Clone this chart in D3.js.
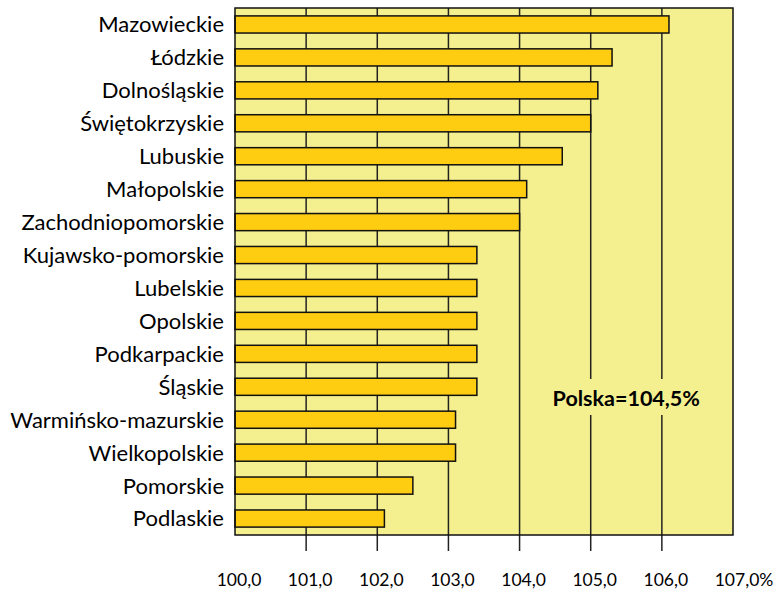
<!DOCTYPE html>
<html>
<head>
<meta charset="utf-8">
<script src="https://cdn.jsdelivr.net/npm/d3@7"></script>
<style>
  body { margin: 0; background: #fff; }
  svg text { font-family: Lato, "Open Sans", sans-serif; fill: #000; }
</style>
</head>
<body>
<div id="chart"></div>
<script>
const regions = ["Mazowieckie", "Łódzkie", "Dolnośląskie", "Świętokrzyskie", "Lubuskie",
                 "Małopolskie", "Zachodniopomorskie", "Kujawsko-pomorskie", "Lubelskie",
                 "Opolskie", "Podkarpackie", "Śląskie", "Warmińsko-mazurskie",
                 "Wielkopolskie", "Pomorskie", "Podlaskie"];
const values = [106.1, 105.3, 105.1, 105.0, 104.6, 104.1, 104.0, 103.4, 103.4,
                103.4, 103.4, 103.4, 103.1, 103.1, 102.5, 102.1];
const ticks = [100, 101, 102, 103, 104, 105, 106, 107];
const polska = 104.5;

const width = 775,
      height = 592;
const margin = { top: 8, right: 42, bottom: 57, left: 235 };
const innerW = width - margin.left - margin.right,
      innerH = height - margin.top - margin.bottom;

const svg = d3.select("#chart")
              .append("svg")
              .attr("width", width)
              .attr("height", height);

const g = svg.append("g")
             .attr("transform", `translate(${margin.left},${margin.top})`);

const x = d3.scaleLinear().domain([100, 107]).range([0, innerW]);
const y = d3.scaleBand().domain(regions).range([0, innerH]).paddingInner(0.48).paddingOuter(0.24);

// plot background
g.append("rect")
 .attr("width", innerW)
 .attr("height", innerH)
 .attr("fill", "#F5F08F");

// gridlines, running a bit below the frame
g.selectAll(".grid")
 .data(ticks.slice(1, -1))
 .join("line")
 .attr("x1", d => x(d))
 .attr("x2", d => x(d))
 .attr("y1", 0)
 .attr("y2", innerH + 16)
 .attr("stroke", "#222")
 .attr("stroke-width", 1.5);

// bars
g.selectAll(".bar")
 .data(regions)
 .join("rect")
 .attr("x", x(100))
 .attr("y", d => y(d))
 .attr("width", (d, i) => x(values[i]) - x(100))
 .attr("height", y.bandwidth())
 .attr("fill", "#FECC10")
 .attr("stroke", "#111")
 .attr("stroke-width", 1.5);

// frame
g.append("rect")
 .attr("width", innerW)
 .attr("height", innerH)
 .attr("fill", "none")
 .attr("stroke", "#111")
 .attr("stroke-width", 1.5);

// category labels
g.selectAll(".cat")
 .data(regions)
 .join("text")
 .attr("x", -11)
 .attr("y", d => y(d) + y.bandwidth() / 2)
 .attr("dy", "0.36em")
 .attr("text-anchor", "end")
 .style("font-size", "22px")
 .text(d => d);

// x axis labels
const fmt = d => d3.format(".1f")(d).replace(".", ",");
const tl = g.selectAll(".tick-label")
            .data(ticks)
            .join("text")
            .attr("x", d => x(d) + 4)
            .attr("y", innerH + 51)
            .attr("text-anchor", "middle")
            .style("font-size", "17.5px")
            .text(fmt);

// percent sign after last label
const last = tl.filter(d => d === 107).node().getBBox();
g.append("text")
 .attr("x", last.x + last.width)
 .attr("y", innerH + 51)
 .style("font-size", "17.5px")
 .text("%");

// Polska note with plot-coloured backing
const ny = (y("Śląskie") + y("Warmińsko-mazurskie") + y.bandwidth()) / 2 - 5;
const note = g.append("text")
              .attr("x", x(105.5))
              .attr("y", ny)
              .attr("dy", "0.36em")
              .attr("text-anchor", "middle")
              .style("font-size", "21.5px")
              .style("font-weight", "bold")
              .text(`Polska=${fmt(polska)}%`);
const nb = note.node().getBBox();
g.insert("rect", "text")
 .attr("x", nb.x - 8)
 .attr("y", nb.y - 6)
 .attr("width", nb.width + 16)
 .attr("height", nb.height + 10)
 .attr("fill", "#F5F08F");
</script>
</body>
</html>
